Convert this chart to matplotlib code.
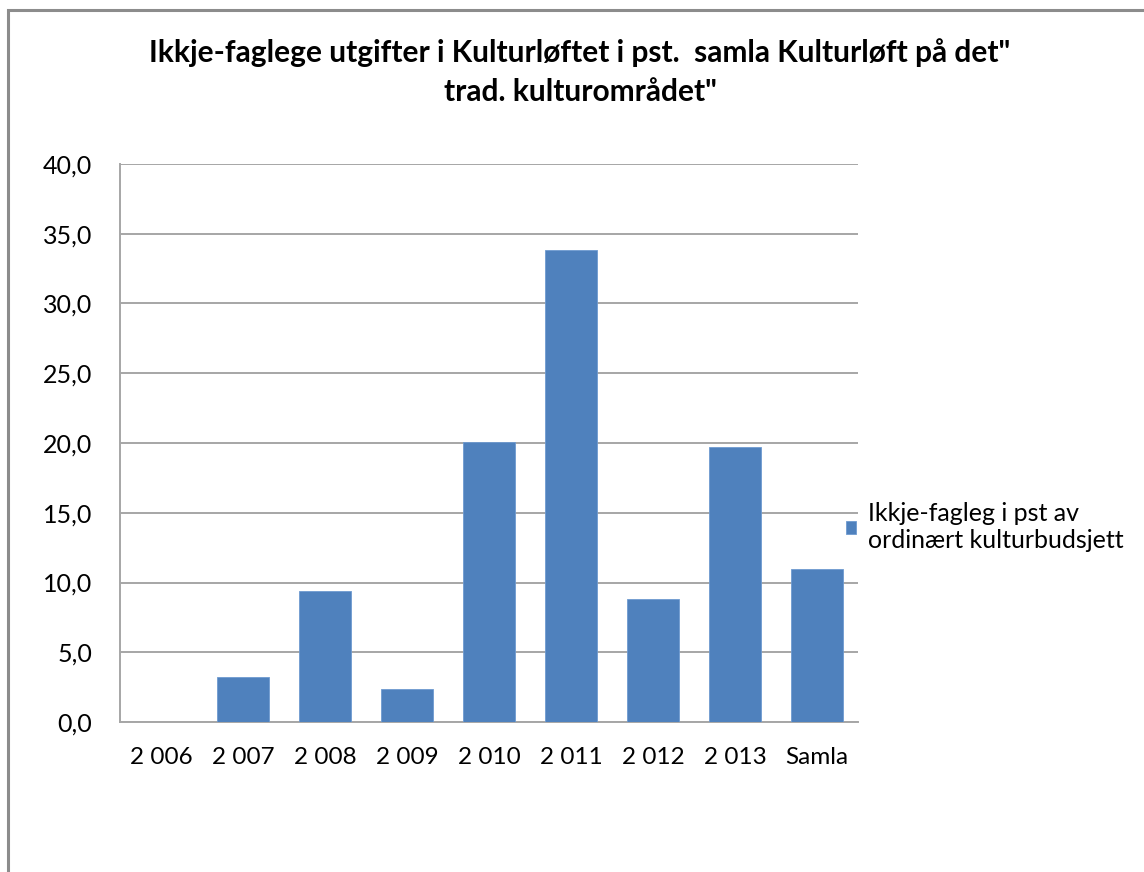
import matplotlib
matplotlib.use("Agg")
import matplotlib.pyplot as plt
from matplotlib.patches import Rectangle

# Data
years = ["2 006", "2 007", "2 008", "2 009", "2 010", "2 011", "2 012", "2 013", "Samla"]
values = [0.0, 3.2, 9.4, 2.4, 20.1, 33.8, 8.8, 19.7, 11.0]
yticks = [0, 5, 10, 15, 20, 25, 30, 35, 40]

BAR = "#4F81BD"
GRID = "#A6A6A6"

plt.rcParams["font.family"] = ["Lato", "DejaVu Sans"]

W, H = 1144, 872
fig = plt.figure(figsize=(W / 100, H / 100), dpi=100)

# outer chart frame (cropped at right/bottom in the reference)
fig.patches.append(Rectangle((8 / W, -0.1), 1.2, (H - 10) / H + 0.1,
                             transform=fig.transFigure, fill=False,
                             edgecolor="#8C8C8C", linewidth=2.2))

ax = fig.add_axes([120 / W, 1 - 722 / H, (858 - 120) / W, (722 - 164) / H])
x = range(len(years))
ax.bar(x, values, width=0.63, color=BAR, edgecolor="#6E9BD0", linewidth=0.6,
       zorder=3, label="Ikkje-fagleg i pst av\nordinært kulturbudsjett")

ax.set_xlim(-0.5, len(years) - 0.5)
ax.set_ylim(0, 40)
ax.set_yticks(yticks)
ax.set_yticklabels([f"{v:.1f}".replace(".", ",") for v in yticks])
ax.set_xticks(list(x))
ax.set_xticklabels(years)
ax.tick_params(length=0, colors="#000000")
ax.tick_params(axis="x", pad=18, labelsize=17.5)
ax.tick_params(axis="y", pad=20, labelsize=18)

ax.grid(axis="y", color=GRID, linewidth=1.4, zorder=0)
for s in ["top", "right"]:
    ax.spines[s].set_visible(False)
for s in ["left", "bottom"]:
    ax.spines[s].set_color(GRID)
    ax.spines[s].set_linewidth(1.4)

ax.legend(loc="center left", bbox_to_anchor=(0.97, 0.35), frameon=False,
          fontsize=18, handlelength=0.42, handleheight=0.42, handletextpad=0.45,
          borderaxespad=0, labelspacing=0.35)

fig.text(580 / W, 1 - 72 / H,
         "Ikkje-faglege utgifter i Kulturløftet i pst.  samla Kulturløft på det\"\ntrad. kulturområdet\"",
         ha="center", va="center", fontsize=21.5, fontweight="bold",
         linespacing=1.5)

fig.savefig("out.png", dpi=100)
